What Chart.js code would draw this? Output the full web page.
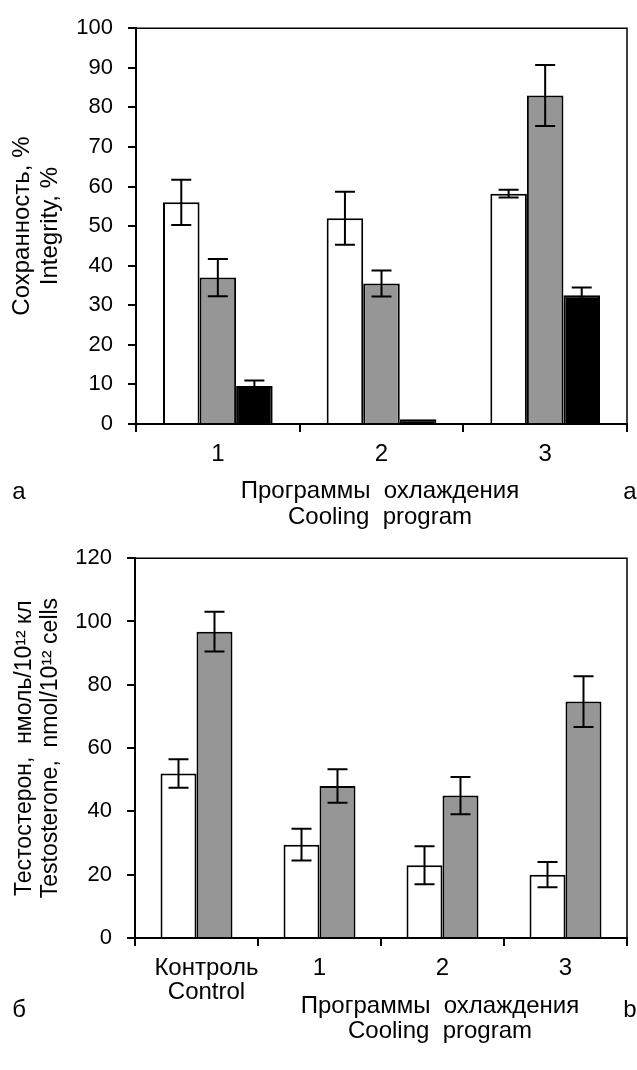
<!DOCTYPE html>
<html>
<head>
<meta charset="utf-8">
<script src="https://cdn.jsdelivr.net/npm/chart.js@4/dist/chart.umd.min.js"></script>
<style>
  html, body { margin: 0; padding: 0; background: #fff; }
  .box { position: relative; width: 637px; }
  #box1 { height: 530px; }
  #box2 { height: 540px; }
</style>
</head>
<body>
<div class="box" id="box1"><canvas id="chart1"></canvas></div>
<div class="box" id="box2"><canvas id="chart2"></canvas></div>
<script>
// panel a: integrity by cooling program
const programLabels = ["1", "2", "3"];
const integrityWhite = [56, 52, 58.2];
const integrityWhiteErr = [5.7, 6.7, 1];
const integrityGray = [37, 35.5, 83];
const integrityGrayErr = [4.7, 3.3, 7.7];
const integrityBlack = [9.6, 1.2, 32.5];
const integrityBlackErr = [1.4, 0, 2];
const integrityTicks = [0, 10, 20, 30, 40, 50, 60, 70, 80, 90, 100];

// panel b: testosterone, control vs programs
// (leading spaces nudge the control label right, as in the original)
const testoLabels = [["   Контроль", "   Control"], "1", "2", "3"];
const testoWhite = [52, 29.5, 23, 20];
const testoWhiteErr = [4.5, 5, 6, 4];
const testoGray = [96.8, 48, 45, 74.7];
const testoGrayErr = [6.3, 5.3, 5.9, 8];
const testoTicks = [0, 20, 40, 60, 80, 100, 120];

const FONT = '"Liberation Sans", Arial, sans-serif';
Chart.defaults.font.family = FONT;
Chart.defaults.font.size = 22;
Chart.defaults.color = "#000";

// draws +/- error whiskers from dataset.errors
const errorBars = {
	id: "errorBars",
	afterDatasetsDraw(chart) {
		const { ctx } = chart;
		const y = chart.scales.y;
		ctx.save();
		ctx.strokeStyle = "#000";
		ctx.lineWidth = 2;
		chart.data.datasets.forEach((ds, i) => {
			const meta = chart.getDatasetMeta(i);
			meta.data.forEach((bar, j) => {
				const e = ds.errors[j];
				if (!e) return;
				const top = y.getPixelForValue(ds.data[j] + e);
				const bot = y.getPixelForValue(ds.data[j] - e);
				ctx.beginPath();
				ctx.moveTo(bar.x, top);
				ctx.lineTo(bar.x, bot);
				ctx.moveTo(bar.x - 10, top);
				ctx.lineTo(bar.x + 10, top);
				ctx.moveTo(bar.x - 10, bot);
				ctx.lineTo(bar.x + 10, bot);
				ctx.stroke();
			});
		});
		ctx.restore();
	},
};

// closes the plot box and writes the axis caption and panel letters
const frameAndCaptions = {
	id: "frameAndCaptions",
	afterDraw(chart, args, opts) {
		const { ctx, chartArea: a } = chart;
		ctx.save();
		ctx.strokeStyle = "#000";
		ctx.lineWidth = 1.5;
		ctx.beginPath();
		ctx.moveTo(a.left, a.top);
		ctx.lineTo(a.right, a.top);
		ctx.lineTo(a.right, a.bottom);
		ctx.stroke();

		ctx.fillStyle = "#000";
		ctx.font = "24px " + FONT;
		ctx.textAlign = "center";
		ctx.textBaseline = "alphabetic";
		opts.lines.forEach((t, k) => {
			ctx.fillText(t, opts.centerX, a.bottom + opts.lineY[k]);
		});
		ctx.fillText(opts.leftLetter, 19, a.bottom + opts.letterY);
		ctx.fillText(opts.rightLetter, 630, a.bottom + opts.letterY);
		ctx.restore();
	},
};

function barSet(data, errors, color) {
	return {
		data,
		errors,
		backgroundColor: color,
		borderColor: "#000",
		borderWidth: 2,
	};
}

function buildOptions(cfg) {
	return {
		responsive: true,
		maintainAspectRatio: false,
		animation: false,
		layout: { padding: { top: cfg.top, right: 10, left: 0, bottom: 0 } },
		datasets: {
			bar: { categoryPercentage: cfg.catPct, barPercentage: 1 },
		},
		plugins: {
			legend: { display: false },
			tooltip: { enabled: false },
			frameAndCaptions: cfg.captions,
		},
		scales: {
			x: {
				grid: {
					drawOnChartArea: false,
					drawTicks: true,
					tickLength: 8,
					color: "#000",
					lineWidth: 2,
				},
				border: { color: "#000", width: 2 },
				ticks: {
					padding: 10,
					font: { size: 24, lineHeight: 1.0 },
					maxRotation: 0,
					autoSkip: false,
				},
				afterFit(scale) {
					scale.height = cfg.xHeight;
				},
			},
			y: {
				min: 0,
				max: cfg.max,
				afterBuildTicks(scale) {
					scale.ticks = cfg.ticks.map((v) => ({ value: v }));
				},
				grid: {
					drawOnChartArea: false,
					drawTicks: true,
					tickLength: 8,
					color: "#000",
					lineWidth: 2,
				},
				border: { color: "#000", width: 2 },
				ticks: { padding: 15, font: { size: 22 } },
				title: {
					display: true,
					text: cfg.yTitle,
					font: cfg.yTitleFont,
					padding: { top: cfg.yTitlePad, bottom: 0 },
				},
				afterFit(scale) {
					scale.width = cfg.yWidth;
				},
			},
		},
	};
}

new Chart(document.getElementById("chart1"), {
	type: "bar",
	data: {
		labels: programLabels,
		datasets: [
			barSet(integrityWhite, integrityWhiteErr, "#ffffff"),
			barSet(integrityGray, integrityGrayErr, "#969696"),
			barSet(integrityBlack, integrityBlackErr, "#000000"),
		],
	},
	options: buildOptions({
		top: 24,
		catPct: 0.67,
		xHeight: 106,
		yWidth: 136,
		max: 100,
		ticks: integrityTicks,
		yTitle: ["Сохранность, %", "Integrity, %"],
		yTitleFont: { size: 24, lineHeight: 1.167 },
		yTitlePad: 8,
		captions: {
			lines: ["Программы  охлаждения", "Cooling  program"],
			lineY: [74, 100],
			letterY: 75,
			centerX: 380,
			leftLetter: "а",
			rightLetter: "а",
		},
	}),
	plugins: [errorBars, frameAndCaptions],
});

new Chart(document.getElementById("chart2"), {
	type: "bar",
	data: {
		labels: testoLabels,
		datasets: [
			barSet(testoWhite, testoWhiteErr, "#ffffff"),
			barSet(testoGray, testoGrayErr, "#969696"),
		],
	},
	options: buildOptions({
		top: 25,
		catPct: 0.585,
		xHeight: 132,
		yWidth: 135,
		max: 120,
		ticks: testoTicks,
		yTitle: ["Тестостерон,  нмоль/10¹² кл", "Testosterone,  nmol/10¹² cells"],
		yTitleFont: { size: 23, lineHeight: 1.15 },
		yTitlePad: 11,
		captions: {
			lines: ["Программы  охлаждения", "Cooling  program"],
			lineY: [75, 100],
			letterY: 79,
			centerX: 440,
			leftLetter: "б",
			rightLetter: "b",
		},
	}),
	plugins: [errorBars, frameAndCaptions],
});
</script>
</body>
</html>
